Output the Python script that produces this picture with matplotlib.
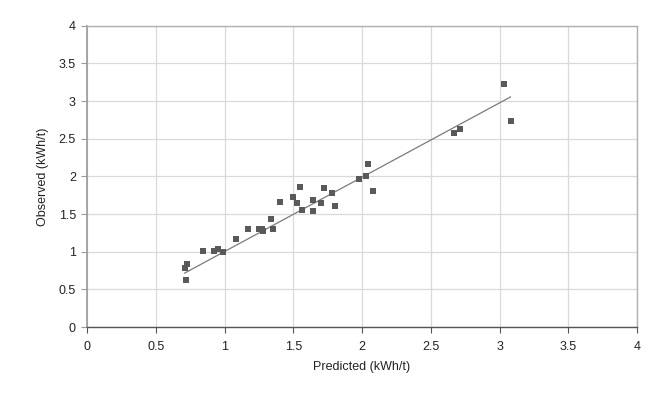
import numpy as np
import matplotlib.pyplot as plt

plt.rcParams["font.family"] = ["Liberation Sans", "DejaVu Sans"]

# Predicted vs observed specific energy (kWh/t)
predicted = [0.71, 0.73, 0.72, 0.84, 0.92, 0.95, 0.99, 1.08, 1.17, 1.25, 1.27,
             1.28, 1.34, 1.35, 1.40, 1.50, 1.55, 1.53, 1.56, 1.64, 1.64, 1.70,
             1.72, 1.78, 1.80, 1.98, 2.03, 2.04, 2.08, 2.67, 2.71, 3.03, 3.08]
observed = [0.79, 0.84, 0.63, 1.01, 1.01, 1.03, 1.00, 1.17, 1.30, 1.30, 1.30,
            1.27, 1.43, 1.30, 1.66, 1.73, 1.86, 1.65, 1.56, 1.69, 1.54, 1.64,
            1.85, 1.78, 1.61, 1.96, 2.00, 2.17, 1.81, 2.58, 2.63, 3.23, 2.74]
# trend line
trend_slope = 0.987
trend_intercept = 0.015
ticks = [0, 0.5, 1, 1.5, 2, 2.5, 3, 3.5, 4]
tick_labels = ["0", "0.5", "1", "1.5", "2", "2.5", "3", "3.5", "4"]

fig = plt.figure(figsize=(6.72, 3.96), dpi=100)
ax = fig.add_axes([0.1295, 0.1742, 0.8185, 0.7608])

ax.scatter(predicted, observed, marker="s", s=24, color="#595959",
           linewidths=0, zorder=3)

xs = np.array([min(predicted), max(predicted)])
ax.plot(xs, trend_slope * xs + trend_intercept, color="#7a7a7a", lw=0.9, zorder=2)

ax.set_xlim(0, 4)
ax.set_ylim(0, 4)
ax.set_xticks(ticks)
ax.set_xticklabels(tick_labels)
ax.set_yticks(ticks)
ax.set_yticklabels(tick_labels)
ax.grid(True, color="#d9d9d9", lw=0.9)
ax.set_axisbelow(True)

for side in ("top", "right"):
    ax.spines[side].set_color("#b0b0b0")
    ax.spines[side].set_linewidth(1.0)
ax.spines["left"].set_color("#999999")
ax.spines["left"].set_linewidth(1.2)
ax.spines["bottom"].set_color("#555555")
ax.spines["bottom"].set_linewidth(1.0)

ax.tick_params(axis="x", length=4, width=0.8, color="#555555", pad=6,
               labelsize=9, labelcolor="#222222")
ax.tick_params(axis="y", length=4, width=0.8, color="#999999", pad=4,
               labelsize=9, labelcolor="#222222")

ax.set_xlabel("Predicted (kWh/t)", fontsize=9, color="#222222", labelpad=6)
ax.set_ylabel("Observed (kWh/t)", fontsize=9, color="#222222", labelpad=7)

fig.savefig("out.png", dpi=100)
plt.close(fig)
